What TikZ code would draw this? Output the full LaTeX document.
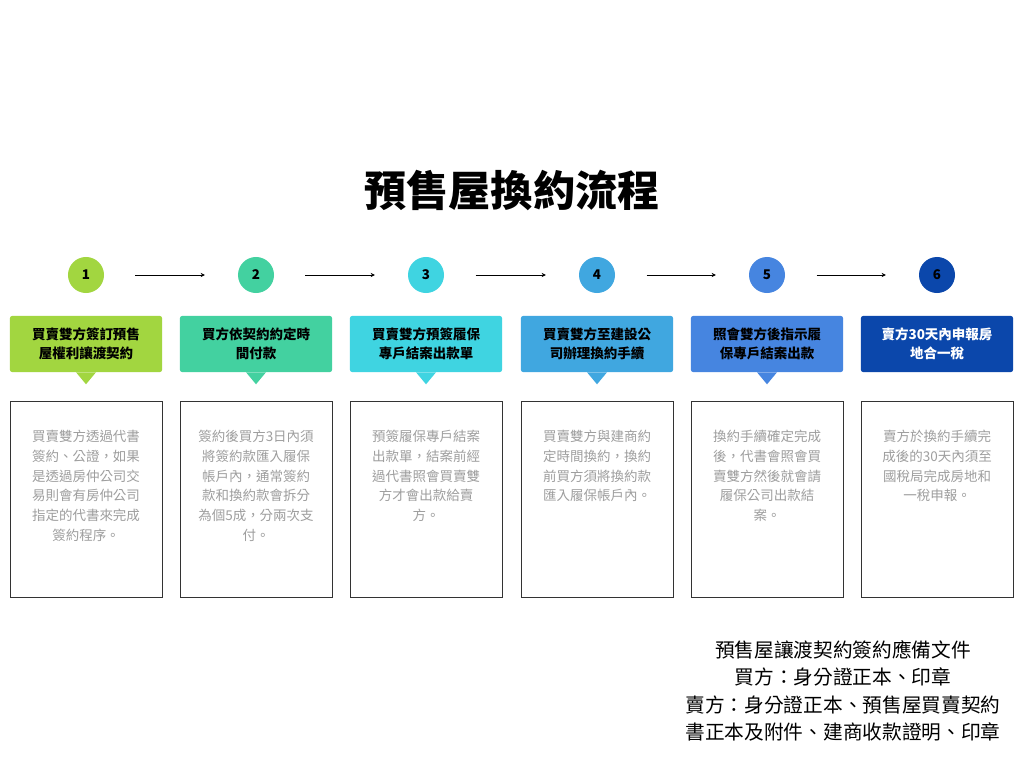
\documentclass[tikz,border=0pt]{standalone}
\usepackage{fontspec}
\setmainfont{Noto Sans CJK TC}
\usetikzlibrary{arrows.meta,positioning}
\definecolor{stepone}{HTML}{A2D640}
\definecolor{steptwo}{HTML}{43D1A0}
\definecolor{stepthree}{HTML}{3FD4E1}
\definecolor{stepfour}{HTML}{40A7E0}
\definecolor{stepfive}{HTML}{4685E0}
\definecolor{stepsix}{HTML}{0B47AB}
\begin{document}
\begin{tikzpicture}[x=0.025cm,y=-0.025cm,
    num/.style={circle,fill=#1,minimum size=0.9cm,inner sep=0pt,font=\bfseries\fontsize{9.5}{11}\selectfont},
    headbox/.style={fill=#1,rounded corners=1.5pt,minimum width=3.8cm,minimum height=1.4cm,inner sep=0pt,align=center,font=\bfseries\fontsize{9.6}{13.5}\selectfont},
    bodybox/.style={draw=black!80,line width=0.6pt,minimum width=3.8cm,minimum height=4.9cm,inner sep=0pt},
    bodytext/.style={text=black!38,align=center,inner sep=0pt,anchor=north,font=\fontsize{9.6}{14}\selectfont},
    flow/.style={-{Stealth[length=3pt,width=3pt]},line width=0.6pt,shorten <=0.78cm,shorten >=0.82cm}]
    \useasboundingbox[fill=white] (0,0) rectangle (1024,768);
    % title
    \node[font=\bfseries\fontsize{30}{36}\selectfont] (title) at (512,190) {預售屋換約流程};
    % step numbers
    \node[num=stepone] (c1) at (86,275) {1};
    \node[num=steptwo] (c2) at (256,275) {2};
    \node[num=stepthree] (c3) at (426,275) {3};
    \node[num=stepfour] (c4) at (597,275) {4};
    \node[num=stepfive] (c5) at (767,275) {5};
    \node[num=stepsix] (c6) at (937,275) {6};
    \draw[flow] (c1) -- (c2);
    \draw[flow] (c2) -- (c3);
    \draw[flow] (c3) -- (c4);
    \draw[flow] (c4) -- (c5);
    \draw[flow] (c5) -- (c6);
    % step headers
    \node[headbox=stepone] (h1) at (86,344) {買賣雙方簽訂預售\\屋權利讓渡契約};
    \node[headbox=steptwo] (h2) at (256,344) {買方依契約約定時\\間付款};
    \node[headbox=stepthree] (h3) at (426,344) {買賣雙方預簽履保\\專戶結案出款單};
    \node[headbox=stepfour] (h4) at (597,344) {買賣雙方至建設公\\司辦理換約手續};
    \node[headbox=stepfive] (h5) at (767,344) {照會雙方後指示履\\保專戶結案出款};
    \node[headbox=stepsix,text=white] (h6) at (937,344) {賣方30天內申報房\\地合一稅};
    \fill[stepone] ([xshift=-0.25cm]h1.south) -- ([xshift=0.25cm]h1.south) -- ([yshift=-0.3cm]h1.south) -- cycle;
    \fill[steptwo] ([xshift=-0.25cm]h2.south) -- ([xshift=0.25cm]h2.south) -- ([yshift=-0.3cm]h2.south) -- cycle;
    \fill[stepthree] ([xshift=-0.25cm]h3.south) -- ([xshift=0.25cm]h3.south) -- ([yshift=-0.3cm]h3.south) -- cycle;
    \fill[stepfour] ([xshift=-0.25cm]h4.south) -- ([xshift=0.25cm]h4.south) -- ([yshift=-0.3cm]h4.south) -- cycle;
    \fill[stepfive] ([xshift=-0.25cm]h5.south) -- ([xshift=0.25cm]h5.south) -- ([yshift=-0.3cm]h5.south) -- cycle;
    % step details
    \node[bodybox] (b1) at (86,499) {};
    \node[bodybox] (b2) at (256,499) {};
    \node[bodybox] (b3) at (426,499) {};
    \node[bodybox] (b4) at (597,499) {};
    \node[bodybox] (b5) at (767,499) {};
    \node[bodybox] (b6) at (937,499) {};
    \node[bodytext] (t1) at ([yshift=-0.74cm]b1.north) {買賣雙方透過代書\\簽約、公證，如果\\是透過房仲公司交\\易則會有房仲公司\\指定的代書來完成\\簽約程序。};
    \node[bodytext] (t2) at ([yshift=-0.74cm]b2.north) {簽約後買方3日內須\\將簽約款匯入履保\\帳戶內，通常簽約\\款和換約款會拆分\\為個5成，分兩次支\\付。};
    \node[bodytext] (t3) at ([yshift=-0.74cm]b3.north) {預簽履保專戶結案\\出款單，結案前經\\過代書照會買賣雙\\方才會出款給賣\\方。};
    \node[bodytext] (t4) at ([yshift=-0.74cm]b4.north) {買賣雙方與建商約\\定時間換約，換約\\前買方須將換約款\\匯入履保帳戶內。};
    \node[bodytext] (t5) at ([yshift=-0.74cm]b5.north) {換約手續確定完成\\後，代書會照會買\\賣雙方然後就會請\\履保公司出款結\\案。};
    \node[bodytext] (t6) at ([yshift=-0.74cm]b6.north) {賣方於換約手續完\\成後的30天內須至\\國稅局完成房地和\\一稅申報。};
    % documents
    \node[align=center,font=\fontsize{14}{19.4}\selectfont] (docs) at (843,691) {預售屋讓渡契約簽約應備文件\\買方：身分證正本、印章\\賣方：身分證正本、預售屋買賣契約\\書正本及附件、建商收款證明、印章};
\end{tikzpicture}
\end{document}
